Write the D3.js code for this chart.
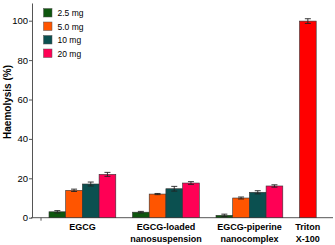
<!DOCTYPE html>
<html>
<head>
<meta charset="utf-8">
<script src="https://cdn.jsdelivr.net/npm/d3@7"></script>
<style>
  body { margin: 0; background: #fff; }
  svg { display: block; font-family: "Liberation Sans", Arial, sans-serif; }
</style>
</head>
<body>
<div id="chart"></div>
<script>
// data
const groups = ["EGCG", "EGCG-loaded\nnanosuspension", "EGCG-piperine\nnanocomplex"];
const doses = ["2.5 mg", "5.0 mg", "10 mg", "20 mg"];
const doseColors = ["#0e560e", "#ff5500", "#0b5050", "#ff0055"];
const values = [
  [3.0, 13.9, 17.1, 22.0],
  [2.8, 12.0, 14.7, 17.6],
  [1.2, 10.0, 12.9, 16.1]
];
const errors = [
  [0.6, 0.6, 1.0, 1.0],
  [0.4, 0.3, 1.2, 0.7],
  [0.6, 0.5, 0.8, 0.6]
];
const controlLabel = "Triton\nX-100";
const controlValue = 99.8;
const controlError = 1.2;
const yTicks = [0, 20, 40, 60, 80, 100];

const W = 335, H = 245;
const svg = d3.select('#chart').append('svg').attr('width', W).attr('height', H);

// each bar sits in a slot; groups are 5 slots apart, control in slot 15
const x = d3.scaleLinear().domain([0, 16]).range([49, 316.2]);
const y = d3.scaleLinear().domain([0, 100]).range([217.7, 20.7]);
const slotW = x(1) - x(0);

// y axis
const yAxis = d3.axisLeft(y.copy().domain([0, 109]).range([217.7, y(109)]))
  .tickValues(yTicks).tickSize(3).tickPadding(1).tickSizeOuter(0);
const ya = svg.append('g').attr('transform', 'translate(32,0)').call(yAxis);
ya.selectAll('text').style('font-size', '9.5px').attr('fill', '#000');
ya.selectAll('line, path').attr('stroke', '#555');

// x axis line
svg.append('line').attr('x1', 31).attr('x2', 333).attr('y1', y(0)).attr('y2', y(0)).attr('stroke', '#555');
svg.append('line').attr('x1', 41).attr('x2', 41).attr('y1', y(0)).attr('y2', y(0) + 3).attr('stroke', '#555');

// bars
const bars = [];
values.forEach((row, g) => row.forEach((v, i) => {
  bars.push({ slot: g * 5 + i, v: v, e: errors[g][i], c: doseColors[i] });
}));
bars.push({ slot: 15, v: controlValue, e: controlError, c: "#ff0000" });

svg.append('g').selectAll('rect').data(bars).join('rect')
  .attr('x', d => x(d.slot)).attr('width', slotW)
  .attr('y', d => y(d.v)).attr('height', d => y(0) - y(d.v))
  .attr('fill', d => d.c).attr('stroke', '#333').attr('stroke-width', 0.6);

// error bars
const eb = svg.append('g').attr('stroke', '#222').attr('stroke-width', 0.9);
bars.forEach(d => {
  const cx = x(d.slot + 0.5);
  eb.append('line').attr('x1', cx).attr('x2', cx).attr('y1', y(d.v + d.e)).attr('y2', y(d.v - d.e));
  eb.append('line').attr('x1', cx - 3).attr('x2', cx + 3).attr('y1', y(d.v + d.e)).attr('y2', y(d.v + d.e));
  eb.append('line').attr('x1', cx - 3).attr('x2', cx + 3).attr('y1', y(d.v - d.e)).attr('y2', y(d.v - d.e));
});

// category labels
const cats = groups.map((g, i) => ({ label: g, c: x(i * 5 + 2) }))
  .concat([{ label: controlLabel, c: x(15.5) }]);
cats.forEach(d => {
  const t = svg.append('text').attr('text-anchor', 'middle')
    .style('font-size', '9px').style('font-weight', 'bold').attr('fill', '#000');
  d.label.split('\n').forEach((line, k) => {
    t.append('tspan').attr('x', d.c).attr('y', 230 + k * 11.5).text(line);
  });
});

// y label
svg.append('text').attr('transform', 'translate(11,102) rotate(-90)')
  .attr('text-anchor', 'middle').style('font-size', '10px').style('font-weight', 'bold')
  .attr('fill', '#000').text('Haemolysis (%)');

// legend
const lg = svg.append('g').attr('transform', 'translate(43.5,8.5)');
doses.forEach((d, i) => {
  const row = lg.append('g').attr('transform', `translate(0,${i * 13.5})`);
  row.append('rect').attr('width', 8.5).attr('height', 8.5).attr('fill', doseColors[i])
    .attr('stroke', '#555').attr('stroke-width', 0.5);
  row.append('text').attr('x', 14).attr('y', 7.5).style('font-size', '8.5px').attr('fill', '#000').text(d);
});
</script>
</body>
</html>
